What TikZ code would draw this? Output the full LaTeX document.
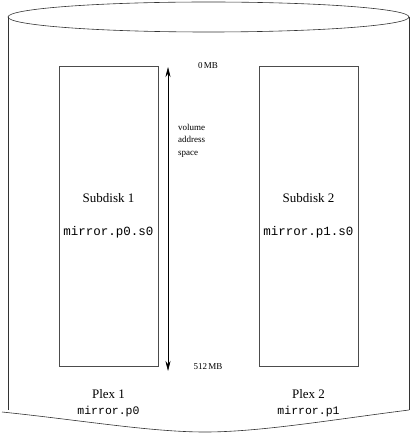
\documentclass[tikz,border=0pt]{standalone}
\usepackage{fontspec}
\setmainfont{Liberation Serif}
\setmonofont{Liberation Mono}
\usetikzlibrary{arrows.meta}
\begin{document}
\begin{tikzpicture}[x=1pt,y=-1pt,
  line/.style={draw=black!80,line width=0.6pt},
  sub/.style={line,draw=black!70,minimum width=99pt,minimum height=300pt,inner sep=0pt},
  big/.style={font=\fontsize{13}{15}\selectfont},
  mono/.style={font=\fontsize{12.5}{14}\selectfont\ttfamily},
  small/.style={font=\fontsize{9}{11}\selectfont}]
\useasboundingbox (0,0) rectangle (410,438);
% cylinder
\draw[line] (208.5,17) ellipse [x radius=200.5pt, y radius=15pt];
\draw[line] (8,17) -- (8,410);
\draw[line] (409,17) -- (409,410);
\draw[line] (2,412) .. controls (80,420) and (150,432) .. (205,432)
  .. controls (260,432) and (330,420) .. (409,410);
% subdisks
\node[sub] (s1) at (108.5,216) {};
\node[sub] (s2) at (308.5,216) {};
\node[big] (t1) at (108.5,198) {Subdisk 1};
\node[mono] (m1) at (108.5,232) {mirror.p0.s0};
\node[big] (t2) at (308.5,198) {Subdisk 2};
\node[mono] (m2) at (308.5,232) {mirror.p1.s0};
% arrow
\coordinate (atop) at (168,67);
\coordinate (abot) at (168,371);
\draw[line,draw=black,{Stealth[length=10pt,width=5pt]}-{Stealth[length=10pt,width=5pt]}] (atop) -- (abot);
\node[small] (z) at (208,66) {0\,MB};
\node[small] (f) at (208,367) {512\,MB};
\node[small,anchor=north west,align=left,inner sep=0pt] (v) at (178,124) {volume\\[1.5pt]address\\[1.5pt]space};
% plexes
\node[big] (p1) at (108.5,394) {Plex 1};
\node[mono,font=\fontsize{11.5}{13}\selectfont\ttfamily] (pm1) at (108.5,412) {mirror.p0};
\node[big] (p2) at (308.5,394) {Plex 2};
\node[mono,font=\fontsize{11.5}{13}\selectfont\ttfamily] (pm2) at (308.5,412) {mirror.p1};
\end{tikzpicture}
\end{document}
